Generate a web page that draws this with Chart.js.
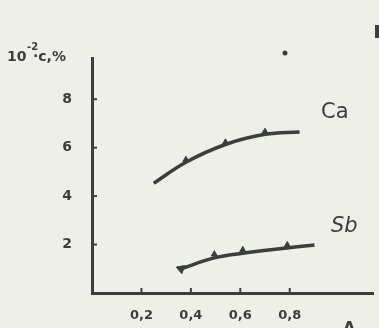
<!DOCTYPE html>
<html>
<head>
<meta charset="utf-8">
<script src="https://cdn.jsdelivr.net/npm/chart.js@4.4.1/dist/chart.umd.min.js"></script>
<style>
  html, body { margin: 0; padding: 0; background: #efefe9; }
  #wrap { width: 379px; height: 328px; position: relative; }
</style>
</head>
<body>
<div id="wrap"><canvas id="myChart"></canvas></div>
<script>
// values
var caX = [0.25, 0.38, 0.54, 0.70, 0.84];
var caY = [4.53, 5.4, 6.13, 6.55, 6.65];
var caMarkX = [0.38, 0.54, 0.70];
var caMarkY = [5.5, 6.22, 6.66];

var sbX = [0.36, 0.495, 0.61, 0.79, 0.9];
var sbY = [1.0, 1.45, 1.64, 1.86, 1.98];
var sbMarkX = [0.495, 0.61, 0.79];
var sbMarkY = [1.6, 1.78, 1.98];

var xTicks = [0.2, 0.4, 0.6, 0.8];
var xTickLabels = ['0,2', '0,4', '0,6', '0,8'];
var yTicks = [2, 4, 6, 8];

var ink = '#3a3f3a';

function pts(xs, ys) {
    return xs.map(function (x, i) { return { x: x, y: ys[i] }; });
}

// inward tick marks + free text of the scan
var decorPlugin = {
    id: 'decor',
    afterDraw: function (chart) {
        var ctx = chart.ctx;
        var xs = chart.scales.x, ys = chart.scales.y;
        var area = chart.chartArea;
        ctx.save();
        ctx.strokeStyle = ink;
        ctx.lineWidth = 2;
        yTicks.forEach(function (v) {
            var py = ys.getPixelForValue(v);
            ctx.beginPath();
            ctx.moveTo(area.left, py);
            ctx.lineTo(area.left + 5, py);
            ctx.stroke();
        });
        xTicks.forEach(function (v) {
            var px = xs.getPixelForValue(v);
            ctx.beginPath();
            ctx.moveTo(px, area.bottom);
            ctx.lineTo(px, area.bottom - 5);
            ctx.stroke();
        });

        ctx.fillStyle = ink;
        ctx.textBaseline = 'alphabetic';
        ctx.textAlign = 'left';
        ctx.font = 'bold 14px "DejaVu Sans"';
        ctx.fillText('10', 7, 61);
        ctx.font = 'bold 10px "DejaVu Sans"';
        ctx.fillText('-2', 27, 50);
        ctx.font = 'bold 14px "DejaVu Sans"';
        ctx.fillText('\u00b7c,%', 33, 61);

        ctx.font = '21px "DejaVu Sans"';
        ctx.fillText('Ca', 321, 118);
        ctx.font = 'italic 21px "DejaVu Sans"';
        ctx.fillText('Sb', 331, 232);
        ctx.font = 'bold 16px "DejaVu Sans"';
        ctx.fillText('A', 343, 333);

        ctx.beginPath();
        ctx.arc(285, 53, 2.5, 0, Math.PI * 2);
        ctx.fill();
        ctx.fillRect(375, 25, 4, 13);
        ctx.restore();
    }
};

var ctx = document.getElementById('myChart').getContext('2d');
var myChart = new Chart(ctx, {
    type: 'scatter',
    data: {
        datasets: [
            {
                label: 'Ca',
                data: pts(caX, caY),
                showLine: true,
                borderColor: ink,
                borderWidth: 3.5,
                tension: 0.4,
                pointRadius: 0
            },
            {
                label: 'Ca points',
                data: pts(caMarkX, caMarkY),
                pointStyle: 'triangle',
                pointRadius: 3.5,
                backgroundColor: ink,
                borderColor: ink
            },
            {
                label: 'Sb',
                data: pts(sbX, sbY),
                showLine: true,
                borderColor: ink,
                borderWidth: 3.5,
                tension: 0.4,
                pointRadius: 0
            },
            {
                label: 'Sb points',
                data: pts(sbMarkX, sbMarkY),
                pointStyle: 'triangle',
                pointRadius: 3.5,
                backgroundColor: ink,
                borderColor: ink
            },
            {
                label: 'Sb start',
                data: pts([sbX[0]], [sbY[0]]),
                pointStyle: 'triangle',
                pointRadius: 5,
                rotation: -70,
                backgroundColor: ink,
                borderColor: ink
            }
        ]
    },
    options: {
        responsive: true,
        maintainAspectRatio: false,
        animation: false,
        layout: { padding: { top: 58, right: 0, left: 0, bottom: 0 } },
        plugins: {
            legend: { display: false },
            tooltip: { enabled: false }
        },
        scales: {
            x: {
                type: 'linear',
                min: 0,
                max: 1.137,
                afterBuildTicks: function (scale) {
                    scale.ticks = xTicks.map(function (v) { return { value: v }; });
                },
                afterFit: function (scale) { scale.height = 35; },
                grid: { display: false, drawTicks: false },
                border: { display: true, width: 3, color: ink },
                ticks: {
                    padding: 15,
                    color: ink,
                    font: { family: 'DejaVu Sans', size: 13, weight: 'bold' },
                    callback: function (v) {
                        var i = xTicks.indexOf(v);
                        return i >= 0 ? xTickLabels[i] : '';
                    }
                }
            },
            y: {
                type: 'linear',
                min: 0,
                max: 9.7,
                afterBuildTicks: function (scale) {
                    scale.ticks = yTicks.map(function (v) { return { value: v }; });
                },
                afterFit: function (scale) { scale.width = 92; },
                grid: { display: false, drawTicks: false },
                border: { display: true, width: 3, color: ink },
                ticks: {
                    padding: 20,
                    color: ink,
                    font: { family: 'DejaVu Sans', size: 14, weight: 'bold' }
                }
            }
        }
    },
    plugins: [decorPlugin]
});
</script>
</body>
</html>
